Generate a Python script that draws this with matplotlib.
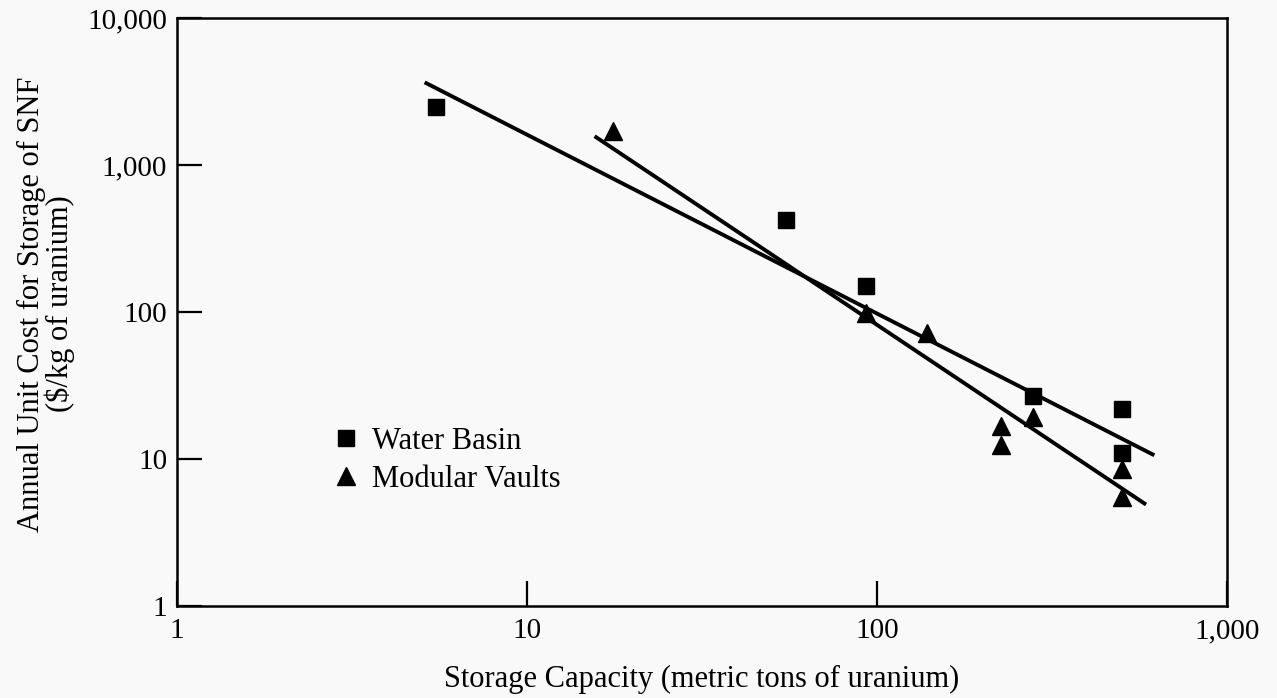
import matplotlib
matplotlib.use("Agg")
import matplotlib.pyplot as plt
from matplotlib.ticker import FixedLocator, NullLocator, FuncFormatter

# data
basin_capacity = [5.5, 55, 93, 279, 501, 501]
basin_cost = [2500, 425, 150, 27, 22, 11]

vault_capacity = [17.6, 93, 139, 226, 226, 279, 501, 501]
vault_cost = [1700, 99, 72, 16.7, 12.5, 19.3, 8.5, 5.5]

# end points of the two fitted lines
basin_fit_x = [5.1, 620]
basin_fit_y = [3650, 10.6]
vault_fit_x = [15.6, 587]
vault_fit_y = [1570, 4.9]

x_ticks = [1, 10, 100, 1000]
y_ticks = [1, 10, 100, 1000, 10000]

plt.rcParams['font.family'] = ['Liberation Serif', 'DejaVu Serif']
fs_tick = 21
fs_lab = 22

fig = plt.figure(figsize=(12.77, 6.98), dpi=100)
fig.patch.set_facecolor('#f9f9f9')
ax = fig.add_axes([177 / 1277, 1 - 606 / 698, 1050 / 1277, 588 / 698])
ax.set_facecolor('#f9f9f9')

ax.plot(basin_fit_x, basin_fit_y, color='black', lw=2.8, solid_capstyle='butt')
ax.plot(vault_fit_x, vault_fit_y, color='black', lw=2.8, solid_capstyle='butt')
ax.plot(basin_capacity, basin_cost, 's', color='black', ms=11.5, label='Water Basin')
ax.plot(vault_capacity, vault_cost, '^', color='black', ms=12.5, label='Modular Vaults')

ax.set_xscale('log')
ax.set_yscale('log')
ax.set_xlim(1, 1000)
ax.set_ylim(1, 10000)
ax.xaxis.set_major_locator(FixedLocator(x_ticks))
ax.yaxis.set_major_locator(FixedLocator(y_ticks))
ax.xaxis.set_minor_locator(NullLocator())
ax.yaxis.set_minor_locator(NullLocator())
fmt = FuncFormatter(lambda v, p: f'{v:,.0f}')
ax.xaxis.set_major_formatter(fmt)
ax.yaxis.set_major_formatter(fmt)
ax.tick_params(direction='in', length=18, width=1.6, labelsize=fs_tick)
ax.tick_params(axis='x', pad=9)
ax.tick_params(axis='y', pad=7)

for s in ax.spines.values():
    s.set_linewidth(1.8)

ax.set_xlabel('Storage Capacity (metric tons of uranium)', fontsize=fs_lab, labelpad=15)
fig.text(46 / 1277, 1 - 304 / 698,
         'Annual Unit Cost for Storage of SNF\n($/kg of uranium)',
         rotation=90, ha='center', va='center', multialignment='center',
         fontsize=fs_lab, linespacing=0.95)

ax.legend(loc='upper left', bbox_to_anchor=(0.151, 0.305), frameon=False,
          fontsize=fs_lab, borderpad=0, handlelength=0.7, handletextpad=0.5,
          labelspacing=0.3, borderaxespad=0)

fig.savefig('out.png', dpi=100, facecolor=fig.get_facecolor())
